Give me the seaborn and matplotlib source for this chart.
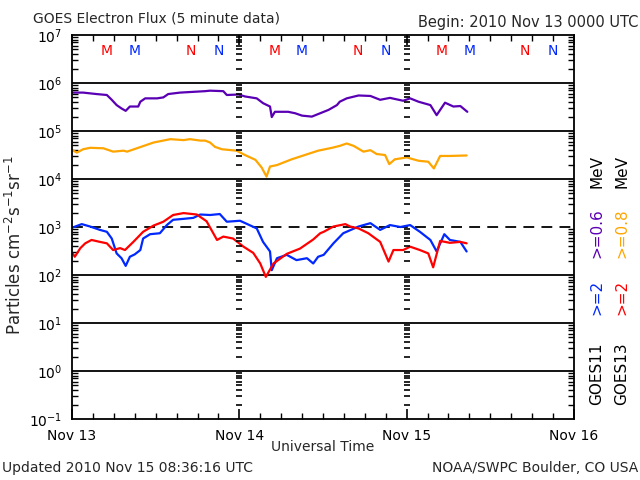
import numpy as np
import pandas as pd
import matplotlib
matplotlib.use('Agg')
import matplotlib.pyplot as plt
import matplotlib.transforms as mtransforms
from matplotlib.ticker import LogLocator, FixedLocator, NullFormatter
import seaborn as sns

# hours since 2010 Nov 13 0000 UTC, flux given as log10(particles cm-2 s-1 sr-1)
g11_lo_hours = [0.1, 1.6, 3.5, 5.0, 5.7, 6.4, 7.1, 7.7, 8.3, 9.0, 9.5, 9.8, 10.5, 12.2, 13.1,
                13.8, 15.5, 17.9, 19.1, 19.8, 21.7, 22.2, 23.9, 24.8, 26.5, 27.4, 28.4, 28.65,
                29.1, 31.0, 32.0, 33.0, 34.4, 35.6, 36.8, 38.0, 38.4, 39.4, 41.1, 42.8, 44.2,
                45.6, 47.5, 48.5, 49.7, 51.4, 52.3, 53.5, 54.7, 55.7, 56.7]
g11_lo_log = [5.80, 5.80, 5.77, 5.75, 5.65, 5.54, 5.47, 5.42, 5.51, 5.51, 5.51, 5.61, 5.68, 5.68, 5.70,
              5.77, 5.80, 5.82, 5.83, 5.84, 5.83, 5.75, 5.76, 5.72, 5.68, 5.58, 5.51, 5.29,
              5.40, 5.40, 5.37, 5.32, 5.30, 5.37, 5.44, 5.54, 5.61, 5.68, 5.74, 5.73, 5.65,
              5.69, 5.63, 5.68, 5.61, 5.54, 5.33, 5.59, 5.51, 5.52, 5.40]

g13_lo_hours = [0.1, 0.7, 1.6, 2.6, 4.5, 5.9, 7.4, 7.9, 9.3, 11.7, 14.1, 16.0, 16.9, 18.4, 19.1,
                19.8, 20.5, 21.5, 23.6, 24.8, 26.3, 27.2, 27.9, 28.4, 29.4, 31.5, 33.4, 35.3,
                37.3, 38.4, 39.4, 40.4, 41.8, 42.8, 43.7, 44.9, 45.5, 46.3, 48.0, 49.7, 51.1,
                51.9, 52.8, 54.2, 56.6]
g13_lo_log = [4.60, 4.55, 4.62, 4.65, 4.64, 4.57, 4.59, 4.57, 4.64, 4.76, 4.83, 4.81, 4.83, 4.80, 4.80,
              4.76, 4.67, 4.62, 4.59, 4.50, 4.40, 4.24, 4.05, 4.26, 4.29, 4.41, 4.50, 4.59,
              4.65, 4.69, 4.74, 4.69, 4.57, 4.60, 4.52, 4.50, 4.31, 4.41, 4.45, 4.38, 4.36,
              4.22, 4.48, 4.48, 4.49]

g11_hi_hours = [0.1, 1.4, 2.6, 4.0, 5.0, 5.7, 6.4, 7.1, 7.7, 8.3, 9.0, 9.8, 10.2, 11.2, 12.6,
                13.6, 14.5, 16.0, 17.4, 18.4, 19.8, 21.2, 22.2, 24.1, 26.5, 27.4, 28.4, 28.65,
                29.4, 30.8, 32.2, 33.7, 34.6, 35.3, 36.1, 37.5, 38.9, 41.1, 42.8, 44.2, 45.6,
                47.1, 48.5, 49.9, 51.4, 52.3, 53.4, 54.2, 55.7, 56.6]
g11_hi_log = [2.99, 3.06, 3.01, 2.94, 2.90, 2.76, 2.45, 2.35, 2.19, 2.38, 2.43, 2.52, 2.76, 2.85, 2.87,
              3.04, 3.15, 3.17, 3.19, 3.26, 3.25, 3.27, 3.11, 3.13, 2.97, 2.69, 2.49, 2.10,
              2.35, 2.42, 2.31, 2.35, 2.24, 2.38, 2.42, 2.66, 2.87, 3.01, 3.08, 2.94, 3.04,
              3.00, 3.04, 2.90, 2.73, 2.49, 2.85, 2.73, 2.69, 2.49]

g13_hi_hours = [0.1, 0.4, 1.2, 1.9, 2.8, 4.0, 5.0, 5.9, 6.9, 7.6, 8.8, 10.2, 11.7, 13.1, 14.5,
                16.0, 17.9, 19.3, 20.8, 21.7, 23.1, 24.6, 26.0, 27.0, 27.8, 28.9, 30.8, 32.7,
                34.6, 35.6, 36.1, 37.5, 39.2, 39.9, 41.1, 42.5, 44.2, 45.4, 46.1, 47.5, 48.5,
                49.9, 51.1, 51.8, 52.8, 54.2, 55.7, 56.6]
g13_hi_log = [2.45, 2.38, 2.56, 2.66, 2.73, 2.69, 2.66, 2.52, 2.56, 2.52, 2.69, 2.90, 3.03, 3.11, 3.25,
              3.29, 3.26, 3.12, 2.73, 2.80, 2.76, 2.59, 2.46, 2.24, 1.96, 2.24, 2.44, 2.55,
              2.74, 2.87, 2.90, 3.01, 3.06, 3.01, 2.97, 2.87, 2.69, 2.28, 2.52, 2.52, 2.59,
              2.52, 2.45, 2.16, 2.71, 2.67, 2.69, 2.66]

# local midnight (M) / noon (N) markers, hours since start
goes13_m = [5, 29, 53]
goes11_m = [9, 33, 57]
goes13_n = [17, 41, 65]
goes11_n = [21, 45, 69]

day_hours = [0, 24, 48, 72]
day_labels = ['Nov 13', 'Nov 14', 'Nov 15', 'Nov 16']
decades = [-1, 0, 1, 2, 3, 4, 5, 6, 7]

purple = '#5a00b4'
orange = '#ffa500'
blue = '#0028ff'
red = '#ff0000'

sns.set_style('ticks')
plt.rcParams['font.family'] = ['DejaVu Sans']

fig = plt.figure(figsize=(6.4, 4.8), dpi=100)
ax = fig.add_axes([72 / 640, 1 - 419 / 480, 502 / 640, 384 / 480])

series = [
    (g11_lo_hours, g11_lo_log, purple),
    (g13_lo_hours, g13_lo_log, orange),
    (g11_hi_hours, g11_hi_log, blue),
    (g13_hi_hours, g13_hi_log, red),
]
for hrs, lg, col in series:
    df = pd.DataFrame({'hours': hrs, 'flux': 10 ** np.array(lg)})
    sns.lineplot(data=df, x='hours', y='flux', color=col, linewidth=1.6, ax=ax)

ax.set_yscale('log')
ax.set_ylim(10.0 ** decades[0], 10.0 ** decades[-1])
ax.set_xlim(day_hours[0], day_hours[-1])

# horizontal decade lines, dashed at 10^3
for d in decades[1:-1]:
    ax.axhline(10.0 ** d, color='black', linewidth=1.3,
               linestyle=(0, (6, 4)) if d == 3 else '-', zorder=1)

# y minor tick marks repeated at each day boundary
minor_vals = [m * 10.0 ** d for d in decades[:-1] for m in range(2, 10)]
for h in day_hours[1:-1]:
    ax.plot([h] * len(minor_vals), minor_vals, linestyle='none', marker='_',
            markersize=4, markeredgewidth=1.2, color='black', zorder=2)

ax.yaxis.set_major_locator(FixedLocator([10.0 ** d for d in decades]))
ax.set_yticklabels([r'$10^{%d}$' % d for d in decades])
ax.yaxis.set_minor_locator(LogLocator(base=10, subs=np.arange(2, 10), numticks=20))
ax.yaxis.set_minor_formatter(NullFormatter())
ax.set_xticks(day_hours)
ax.set_xticklabels(day_labels)
ax.set_xticks(np.arange(0, 73, 3), minor=True)

ax.tick_params(which='both', direction='in', top=True, right=True, color='black',
               labelsize=10, labelcolor='black')
ax.tick_params(which='major', length=7, width=1.2, pad=7)
ax.tick_params(which='minor', length=4, width=1.0)
ax.tick_params(axis='y', which='major', length=0)
for s in ax.spines.values():
    s.set_color('black')
    s.set_linewidth(1.3)

ax.set_xlabel('')
ax.set_ylabel('')

# M / N markers along the top
trans = mtransforms.blended_transform_factory(ax.transData, ax.transAxes)
for hrs, txt, col in [(goes13_m, 'M', red), (goes11_m, 'M', blue),
                      (goes13_n, 'N', red), (goes11_n, 'N', blue)]:
    for h in hrs:
        ax.text(h, 0.958, txt, transform=trans, color=col, fontsize=10,
                ha='center', va='center')

fig.text(33 / 640, 1 - 19 / 480, 'GOES Electron Flux (5 minute data)', fontsize=10,
         ha='left', va='center')
fig.text(638 / 640, 1 - 23 / 480, 'Begin: 2010 Nov 13 0000 UTC', fontsize=10.5,
         ha='right', va='center')
fig.text(15 / 640, 1 - 245 / 480, r'Particles cm$^{-2}$s$^{-1}$sr$^{-1}$', fontsize=12,
         rotation=90, ha='center', va='center')
fig.text(323 / 640, 1 - 447 / 480, 'Universal Time', fontsize=10, ha='center', va='center')
fig.text(2 / 640, 1 - 468 / 480, 'Updated 2010 Nov 15 08:36:16 UTC', fontsize=10,
         ha='left', va='center')
fig.text(638 / 640, 1 - 468 / 480, 'NOAA/SWPC Boulder, CO USA', fontsize=10,
         ha='right', va='center')

# rotated satellite legend on the right
legend_cols = [
    (597, ['GOES11', '>=2', '>=0.6', 'MeV'], ['black', blue, purple, 'black']),
    (622, ['GOES13', '>=2', '>=0.8', 'MeV'], ['black', red, orange, 'black']),
]
legend_bottoms = [405, 315, 258, 188]
for xpix, parts, cols in legend_cols:
    for txt, col, yb in zip(parts, cols, legend_bottoms):
        fig.text(xpix / 640, 1 - yb / 480, txt, color=col, fontsize=11, rotation=90,
                 ha='center', va='bottom')

fig.savefig('out.png', dpi=100)
